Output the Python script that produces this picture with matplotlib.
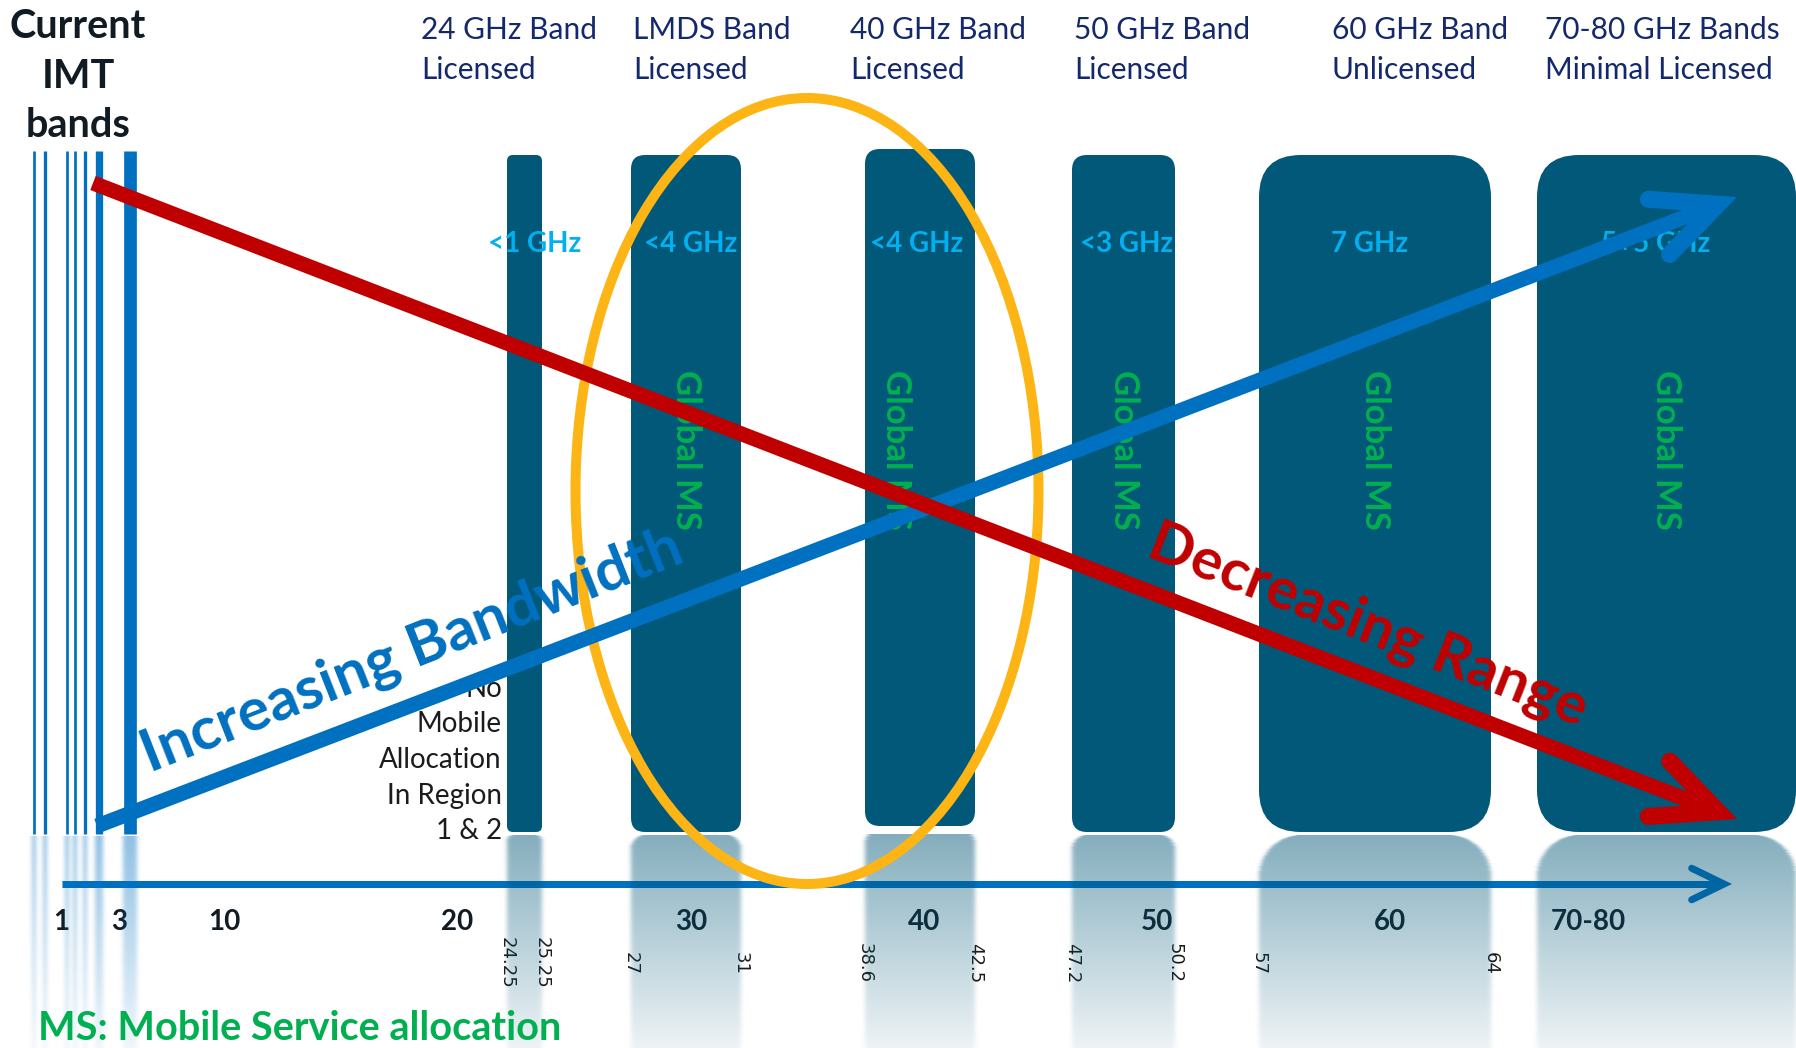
import matplotlib

matplotlib.use('Agg')
import matplotlib.pyplot as plt
import numpy as np
from matplotlib.patches import FancyBboxPatch, Ellipse

W, H = 1796, 1048

# mmWave candidate bands (GHz)
BAND_LO = [24.25, 27, 38.6, 47.2, 57, 71]
BAND_HI = [25.25, 31, 42.5, 50.2, 64, 86]
BAND_TITLES = ['24 GHz Band\nLicensed', 'LMDS Band\nLicensed', '40 GHz Band\nLicensed',
               '50 GHz Band\nLicensed', '60 GHz Band\nUnlicensed', '70-80 GHz Bands\nMinimal Licensed']
BAND_BW = ['<1 GHz', '<4 GHz', '<4 GHz', '<3 GHz', '7 GHz', '5+5 GHz']
BAND_MS = [False, True, True, True, True, True]

# current IMT bands (GHz)
IMT_GHZ = [0.56, 0.74, 1.21, 1.48, 1.83, 2.31, 3.73]

MAJOR_TICKS = [1, 3, 10, 20, 30, 40, 50, 60, 74]
MAJOR_LABELS = ['1', '3', '10', '20', '30', '40', '50', '60', '70-80']
EDGE_TICKS = [24.25, 25.25, 27, 31, 38.6, 42.5, 47.2, 50.2, 57, 64]

# schematic frequency axis: GHz -> pixel anchors (piecewise linear)
AXIS_GHZ = [0, 1, 3, 10, 20, 24.25, 25.25, 27, 30, 31, 38.6, 40, 42.5, 47.2, 50, 50.2, 57, 60, 64, 71, 86]
AXIS_PX = [0, 61, 119, 224, 457, 507, 542, 631, 691, 741, 865, 924, 975, 1072, 1157, 1175, 1259, 1390, 1491, 1537, 1796]

# styling
BAR_C = '#025878'
BLUE = '#0070c0'
RED = '#c00000'
GREEN = '#00b050'
CYAN = '#00b0f0'
NAVY = '#14296b'
INK = '#111b24'
FONT = 'Lato'
BAR_RAD = [6, 14, 15, 15, 42, 42]
BAR_LIFT = [0, 0, 6, 0, 0, 0]
BW_DX = [10, 5, -3, 3, -5, -11]
MS_DX = [0, 0, -24, 0, 0, 0]
IMT_W = [2.7, 3.3, 2.7, 2.7, 3.3, 7.3, 12.7]   # line widths in px
TITLE_X = [421, 633, 850, 1074, 1332, 1545]
BAR_TOP, BAR_BOT = 155, 832
AXIS_Y = 884
PT = 72 / 100  # px -> pt

fig = plt.figure(figsize=(W / 100, H / 100), dpi=100)
fig.patch.set_facecolor('white')

# frequency axis; its bottom spine sits on the blue axis arrow
ax = fig.add_axes([0, (H - AXIS_Y) / H, 1, AXIS_Y / H])
ax.set_xscale('function', functions=(lambda f: np.interp(f, AXIS_GHZ, AXIS_PX),
                                     lambda p: np.interp(p, AXIS_PX, AXIS_GHZ)))
ax.set_xlim(0, 86)
ax.set_ylim(0, 1)
ax.set_yticks([])
for s in ax.spines.values():
    s.set_visible(False)
ax.set_xticks(MAJOR_TICKS, MAJOR_LABELS)
ax.tick_params(axis='x', which='major', length=0, pad=18)
for lab in ax.get_xticklabels():
    lab.set_fontfamily(FONT)
    lab.set_fontweight('bold')
    lab.set_fontsize(20)
    lab.set_color(INK)
ax.set_xticks(EDGE_TICKS, [f'{v:g}' for v in EDGE_TICKS], minor=True)
ax.tick_params(axis='x', which='minor', length=0, pad=57, labelrotation=270, labelsize=13,
               labelcolor='#1a1a1a')
for lab in ax.get_xticklabels(minor=True):
    lab.set_va('center')


def px(f):
    return ax.transData.transform([[f, 0.5]])[0, 0]


# pixel canvas on top for the drawing
cv = fig.add_axes([0, 0, 1, 1])
cv.set_xlim(0, W)
cv.set_ylim(H, 0)
cv.axis('off')
cv.patch.set_alpha(0)

# band blocks
centers = []
for i, (lo, hi) in enumerate(zip(BAND_LO, BAND_HI)):
    l, r = px(lo), px(hi)
    centers.append((l + r) / 2)
    top, bot = BAR_TOP - BAR_LIFT[i], BAR_BOT - BAR_LIFT[i]
    cv.add_patch(FancyBboxPatch((l, top), r - l, bot - top,
                                boxstyle=f'round,pad=0,rounding_size={BAR_RAD[i]}',
                                fc=BAR_C, ec='none', zorder=2))
    cv.text(centers[i] + BW_DX[i], 244, BAND_BW[i], ha='center', va='center', color=CYAN,
            fontsize=20, fontweight='bold', fontfamily=FONT, zorder=3)
    if BAND_MS[i]:
        cv.text(centers[i] + MS_DX[i], 450, 'Global MS', ha='center', va='center', rotation=270,
                color=GREEN, fontsize=25, fontweight='bold', fontfamily=FONT, zorder=3)
    cv.text(TITLE_X[i], 50, BAND_TITLES[i], ha='left', va='center', color=NAVY,
            fontsize=21.5, fontfamily=FONT, linespacing=1.55, zorder=3)

# IMT lines
imt_x = [px(f) for f in IMT_GHZ]
for x, w in zip(imt_x, IMT_W):
    cv.plot([x, x], [151, 834], color=BLUE, lw=w * PT, solid_capstyle='butt', zorder=2)


def chevron_arrow(p0, p1, color, lw, head=70, ang=25, z=5, hw=None):
    hw = lw + 2 if hw is None else hw
    p0, p1 = np.array(p0, float), np.array(p1, float)
    d = (p1 - p0) / np.linalg.norm(p1 - p0)
    # pull the vertex back so the mitred point lands on p1
    v = p1 - d * (hw / 2) / np.sin(np.radians(ang))
    end = v - d * 6
    cv.plot([p0[0], end[0]], [p0[1], end[1]], color=color, lw=lw * PT,
            solid_capstyle='butt', zorder=z)
    pts = []
    for s in (1, -1):
        t = np.radians(ang * s)
        rot = np.array([[np.cos(t), -np.sin(t)], [np.sin(t), np.cos(t)]])
        pts.append(v - head * (rot @ d))
    cv.plot([pts[0][0], v[0], pts[1][0]], [pts[0][1], v[1], pts[1][1]], color=color,
            lw=hw * PT, solid_joinstyle='miter', solid_capstyle='round', zorder=z)


# axis arrow
chevron_arrow((62, AXIS_Y), (1732, AXIS_Y), BLUE, 7, head=36, ang=26, z=1, hw=7)

# mirrored reflections below the blocks
R0 = 834
ys = np.arange(R0, H) + 0.5
xs = np.arange(W) + 0.5
X, Y = np.meshgrid(xs, ys)
grad = np.clip(0.49 - 0.42 * (Y - R0) / (H - R0), 0, 1)
rgb = np.zeros((len(ys), W, 3))
alpha = np.zeros((len(ys), W))


def paint(mask, color, a):
    c = np.array(matplotlib.colors.to_rgb(color))
    rgb[mask] = c
    alpha[mask] = a[mask]


for i, (lo, hi) in enumerate(zip(BAND_LO, BAND_HI)):
    l, r, rad = px(lo), px(hi), BAR_RAD[i]
    top = BAR_BOT - BAR_LIFT[i] + 3
    m = (X >= l) & (X <= r) & (Y >= top)
    cy = top + rad
    m &= ~((X < l + rad) & (Y < cy) & ((X - l - rad) ** 2 + (Y - cy) ** 2 > rad ** 2))
    m &= ~((X > r - rad) & (Y < cy) & ((X - r + rad) ** 2 + (Y - cy) ** 2 > rad ** 2))
    paint(m, BAR_C, grad)
for x, w in zip(imt_x, IMT_W):
    m = (np.abs(X - x) <= w / 2 + 0.5) & (Y >= 836)
    paint(m, BLUE, grad * 0.9)

# soften the reflection edges
k = np.exp(-0.5 * (np.arange(-6, 7) / 2.2) ** 2)
k /= k.sum()
pre = rgb * alpha[..., None]
blur = lambda a: np.apply_along_axis(lambda v: np.convolve(v, k, mode='same'), 1, a)
alpha_b = blur(alpha)
pre_b = np.stack([blur(pre[..., j]) for j in range(3)], axis=-1)
rgb_b = np.where(alpha_b[..., None] > 1e-6, pre_b / np.maximum(alpha_b[..., None], 1e-6), 1)
img = np.dstack([np.clip(rgb_b, 0, 1), np.clip(alpha_b, 0, 1)])
cv.imshow(img, extent=(0, W, H, R0), origin='upper', interpolation='bilinear',
          zorder=1.5, aspect='auto')
cv.set_xlim(0, W)
cv.set_ylim(H, 0)

# highlighted ellipse around LMDS / 40 GHz
cv.add_patch(Ellipse((807, 491), 463, 786, fill=False, ec='#fdb515', lw=10 * PT, zorder=4))

chevron_arrow((97, 826), (1737, 197), BLUE, 15, z=5)
chevron_arrow((93, 183), (1737, 819), RED, 15, z=6)

cv.text(412, 652, 'Increasing Bandwidth', ha='center', va='center', rotation=21.5,
        rotation_mode='anchor', color=BLUE, fontsize=43, fontweight='bold', fontfamily=FONT, zorder=7)
cv.text(1368, 626, 'Decreasing Range', ha='center', va='center', rotation=-21.5,
        rotation_mode='anchor', color=RED, fontsize=42, fontweight='bold', fontfamily=FONT, zorder=7)

cv.text(78, 76, 'Current\nIMT\nbands', ha='center', va='center', color=INK, fontsize=28.5,
        fontweight='bold', fontfamily=FONT, linespacing=1.42, zorder=3)
cv.text(502, 760, 'No\nMobile\nAllocation\nIn Region\n1 & 2', ha='right', va='center',
        multialignment='right', color='#1b1b1b', fontsize=20, fontfamily=FONT,
        linespacing=1.46, zorder=3)
cv.text(38, 1028, 'MS: Mobile Service allocation', ha='left', va='center', color=GREEN,
        fontsize=28.5, fontweight='bold', fontfamily=FONT, zorder=3)

fig.savefig('out.png', dpi=100, facecolor='white')
